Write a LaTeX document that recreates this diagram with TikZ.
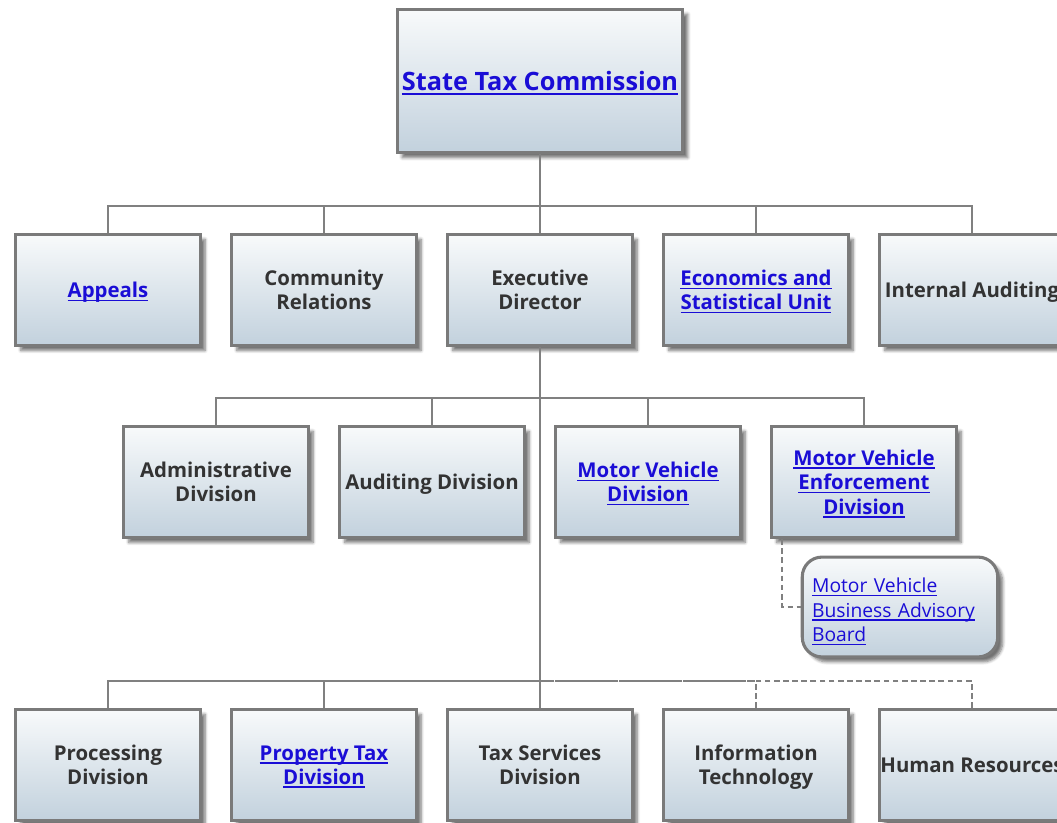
\documentclass[tikz,border=0pt]{standalone}
\usepackage{fontspec}
\setmainfont{Open Sans}
\usetikzlibrary{shadows.blur}

\definecolor{linkblue}{RGB}{26,13,214}
\definecolor{boxtext}{RGB}{51,51,51}
\definecolor{boxedge}{RGB}{122,122,122}
\definecolor{boxtop}{RGB}{248,250,251}
\definecolor{boxbottom}{RGB}{194,209,221}
\definecolor{wire}{RGB}{128,128,128}
\newcommand{\lnk}[1]{\textcolor{linkblue}{\setbox0\hbox{#1}\rlap{\rule[-0.17em]{\wd0}{0.07em}}\box0}}

\begin{document}
\begin{tikzpicture}[x=0.025cm,y=-0.025cm,unit_box/.style={rectangle,draw=boxedge,line width=2.2pt,top color=boxtop,bottom color=boxbottom,minimum width=131pt,minimum height=79pt,align=center,text=boxtext,text depth=-1pt,font=\fontsize{14.5}{17.3}\selectfont\bfseries,blur shadow={shadow xshift=3.5pt,shadow yshift=-3.5pt,shadow blur steps=6,shadow opacity=55}},head_box/.style={unit_box,minimum width=203pt,minimum height=102pt,text depth=0pt,font=\fontsize{18}{22}\selectfont\bfseries},board_box/.style={rectangle,draw=boxedge,line width=2.2pt,top color=boxtop,bottom color=boxbottom,rounded corners=14pt,text width=125pt,inner xsep=7pt,minimum width=139pt,minimum height=71pt,align=left,font=\fontsize{13.7}{17.4}\selectfont,blur shadow={shadow xshift=3.5pt,shadow yshift=-3.5pt,shadow blur steps=6,shadow opacity=55}},link_line/.style={draw=wire,line width=1.5pt},dash_line/.style={link_line,dash pattern=on 4pt off 2.5pt}]

		\useasboundingbox (0,0) rectangle (1057,822);

		\node[head_box] (stc) at (540,81) {\lnk{State Tax Commission}};

		\node[unit_box] (appeals) at (108,290) {\lnk{Appeals}};
		\node[unit_box] (comm) at (324,290) {Community\\Relations};
		\node[unit_box] (exec) at (540,290) {Executive\\Director};
		\node[unit_box] (econ) at (756,290) {\lnk{Economics and}\\\lnk{Statistical Unit}};
		\node[unit_box,inner xsep=1pt] (intaudit) at (972,290) {Internal Auditing};

		\node[unit_box] (admin) at (216,482) {Administrative\\Division};
		\node[unit_box] (auddiv) at (432,482) {Auditing Division};
		\node[unit_box] (mvd) at (648,482) {\lnk{Motor Vehicle}\\\lnk{Division}};
		\node[unit_box] (mved) at (864,482) {\lnk{Motor Vehicle}\\\lnk{Enforcement}\\\lnk{Division}};
		\node[board_box] (board) at (900,607) {\rule{0pt}{17pt}\lnk{Motor Vehicle}\\\lnk{Business Advisory}\\\lnk{Board}};

		\node[unit_box] (proc) at (108,765) {Processing\\Division};
		\node[unit_box] (proptax) at (324,765) {\lnk{Property Tax}\\\lnk{Division}};
		\node[unit_box] (taxserv) at (540,765) {Tax Services\\Division};
		\node[unit_box] (infotech) at (756,765) {Information\\Technology};
		\node[unit_box,inner xsep=0.5pt] (hr) at (972,765) {Human Resources};

		\coordinate (bus_top) at (540,206);
		\coordinate (bus_mid) at (540,398);
		\coordinate (bus_low) at (540,681);

		\draw[link_line] (stc) -- (exec);
		\draw[link_line] (appeals.north) |- (bus_top);
		\draw[link_line] (comm.north) |- (bus_top);
		\draw[link_line] (econ.north) |- (bus_top);
		\draw[link_line] (intaudit.north) |- (bus_top);

		\draw[link_line] (exec) -- (taxserv);
		\draw[link_line] (admin.north) |- (bus_mid);
		\draw[link_line] (auddiv.north) |- (bus_mid);
		\draw[link_line] (mvd.north) |- (bus_mid);
		\draw[link_line] (mved.north) |- (bus_mid);
		\draw[dash_line] ([xshift=8.5pt]mved.south west) |- (board.west);

		\draw[link_line] (proc.north) |- (bus_low);
		\draw[link_line] (proptax.north) |- (bus_low);
		\draw[dash_line] (infotech.north) |- (bus_low);
		\draw[dash_line] (hr.north) |- (bus_low);
		\end{tikzpicture}
\end{document}
